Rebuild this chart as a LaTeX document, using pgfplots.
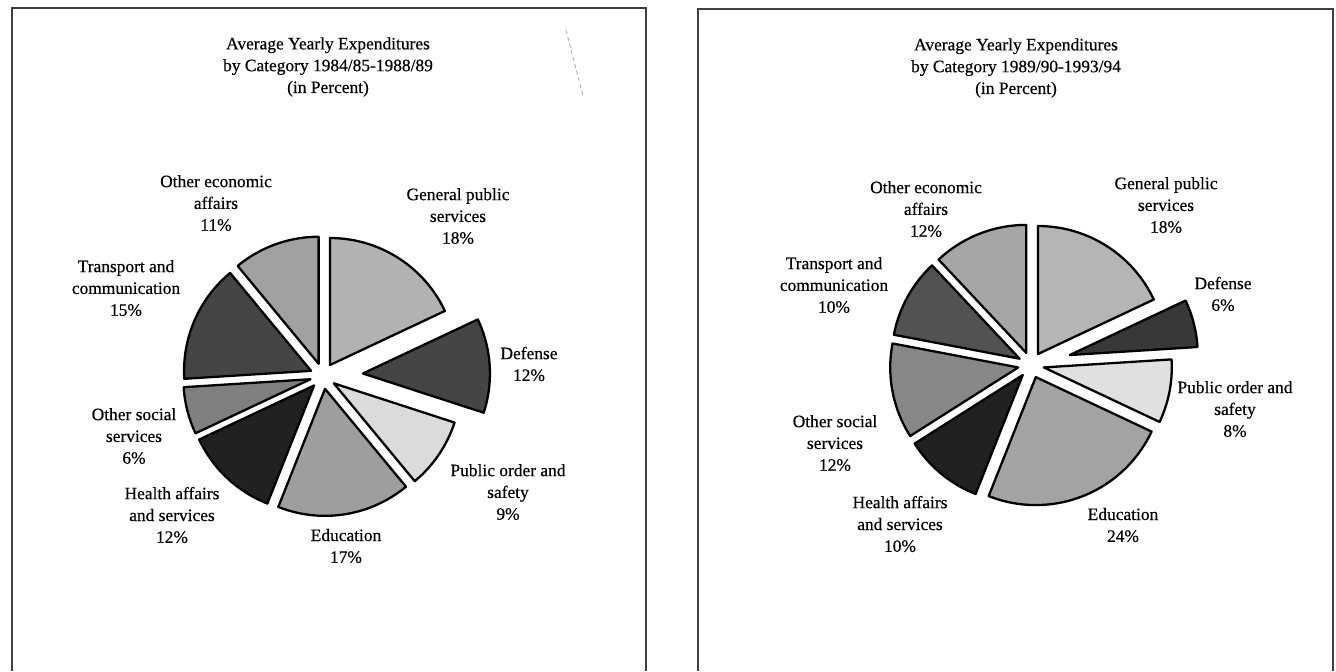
\documentclass[border=0pt]{standalone}
\usepackage{pgfplots}
\usepackage{pgfplotstable}
\pgfplotsset{compat=1.18}
\usepackage{fontspec}
\setmainfont{Liberation Serif}
\newfontfamily\labelfont{Liberation Serif}[FakeBold=0.45]

% Shares in percent, clockwise from twelve o'clock; explode = offset of the
% slice from the centre, tone = percent white in the grey fill.
\pgfplotstableread{
share explode tone
18 13 70
12 40 27
9  13 86
17 13 62
12 13 13
6  13 50
15 13 27
11 13 63
}\pieA
\pgfplotstableread{
share explode tone
18 13 71
6  40 22
8  13 88
24 13 64
10 13 13
12 13 53
10 13 32
12 13 65
}\pieB

% #1 table, #2/#3 centre, #4 radius
\newcommand\drawpie[4]{%
  \gdef\cum{0}%
  \pgfplotsforeachungrouped \i in {0,...,7}{%
    \pgfplotstablegetelem{\i}{share}\of{#1}\let\share\pgfplotsretval
    \pgfplotstablegetelem{\i}{explode}\of{#1}\let\expl\pgfplotsretval
    \pgfplotstablegetelem{\i}{tone}\of{#1}\let\tone\pgfplotsretval
    \pgfmathsetmacro\aend{90-3.6*\cum}%
    \pgfmathsetmacro\astart{90-3.6*(\cum+\share)}%
    \pgfmathsetmacro\amid{(\aend+\astart)/2}%
    \pgfmathsetmacro\tx{#2+\expl*cos(\amid)}%
    \pgfmathsetmacro\ty{#3-\expl*sin(\amid)}%
    \pgfmathsetmacro\cumnext{\cum+\share}%
    \xdef\cum{\cumnext}%
    \edef\slice{\noexpand\addplot[draw=black, line width=1.15pt, line join=round,
        fill=white!\tone!black, domain=\astart:\aend, samples=60,
        variable=\noexpand\t]
      ({\tx+#4*cos(\noexpand\t)}, {\ty-#4*sin(\noexpand\t)})
      -- (axis cs:\tx,\ty) -- cycle;}%
    \slice
  }%
}

\begin{document}
\begin{tikzpicture}[lab/.style={align=center, inner sep=0pt,
    font=\labelfont\fontsize{8.7}{10.9}\selectfont}]
\begin{axis}[
  scale only axis, width=668pt, height=335.5pt,
  xmin=0, xmax=1336, ymin=0, ymax=671, y dir=reverse,
  hide axis, clip=false,
]
% page area
\path (axis cs:0,0) rectangle (axis cs:1336,671);
% panel frames
\draw[line width=1pt, black!75] (axis cs:12,671) -- (axis cs:12,8)
  -- (axis cs:646,8) -- (axis cs:646,671);
\draw[line width=1pt, black!75] (axis cs:698,671) -- (axis cs:698,9)
  -- (axis cs:1333,9) -- (axis cs:1333,671);
\draw[black!35, line width=0.4pt, dash pattern=on 2pt off 1.5pt]
  (axis cs:566,30) -- (axis cs:583,96);

% 1984/85-1988/89
\drawpie{\pieA}{323}{376}{127}
\node[lab] at (axis cs:328,67) {Average Yearly Expenditures\\by Category 1984/85-1988/89\\(in Percent)};
\node[lab] at (axis cs:458,216) {General public\\services\\18\%};
\node[lab] at (axis cs:529,364) {Defense\\12\%};
\node[lab] at (axis cs:508,492) {Public order and\\safety\\9\%};
\node[lab] at (axis cs:346,546) {Education\\17\%};
\node[lab] at (axis cs:172,515) {Health affairs\\and services\\12\%};
\node[lab] at (axis cs:134,436) {Other social\\services\\6\%};
\node[lab] at (axis cs:126,288) {Transport and\\communication\\15\%};
\node[lab] at (axis cs:216,203) {Other economic\\affairs\\11\%};

% 1989/90-1993/94
\drawpie{\pieB}{1031}{365}{128}
\node[lab] at (axis cs:1016,68) {Average Yearly Expenditures\\by Category 1989/90-1993/94\\(in Percent)};
\node[lab] at (axis cs:1166,205) {General public\\services\\18\%};
\node[lab] at (axis cs:1223,294) {Defense\\6\%};
\node[lab] at (axis cs:1235,409) {Public order and\\safety\\8\%};
\node[lab] at (axis cs:1123,525) {Education\\24\%};
\node[lab] at (axis cs:900,524) {Health affairs\\and services\\10\%};
\node[lab] at (axis cs:835,443) {Other social\\services\\12\%};
\node[lab] at (axis cs:834,285) {Transport and\\communication\\10\%};
\node[lab] at (axis cs:926,209) {Other economic\\affairs\\12\%};
\end{axis}
\end{tikzpicture}
\end{document}
